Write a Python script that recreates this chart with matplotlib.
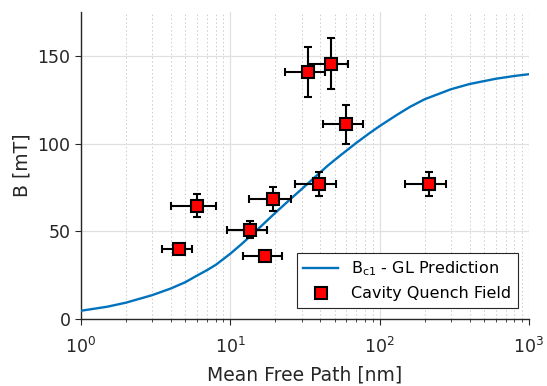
import numpy as np
import matplotlib
matplotlib.use("Agg")
import matplotlib.pyplot as plt
from matplotlib.ticker import LogLocator, NullFormatter

# GL prediction curve
mfp_curve = [1, 1.5, 2, 3, 4, 5, 6, 7, 8, 10, 12, 15, 20, 25, 30, 37, 45, 55, 70, 85,
             100, 130, 160, 200, 300, 400, 600, 800, 1000]
bc1_curve = [4.7, 7.0, 9.3, 13.6, 17.4, 21.0, 24.8, 27.9, 30.9, 37.2, 43.0, 50.5, 60.5, 68, 74,
             81, 87.5, 93.5, 100.5, 105.8, 110, 116.3, 121, 125.3, 131, 134, 137, 138.6, 139.6]

# cavity quench field measurements
mfp = [4.5, 6.0, 13.5, 17.1, 19.4, 33.3, 47, 59.6, 39, 214]
mfp_err = [1.0, 2.0, 4, 5, 6, 10, 14, 18, 12, 65]
bq = [40, 64.5, 51, 36, 68.3, 141, 145.5, 111, 77, 77]
bq_err = [3, 6.5, 5, 2.5, 7, 14.3, 14.5, 11, 7, 7]

plt.rcParams['font.family'] = ['DejaVu Sans']
txt = '#262626'

fig = plt.figure(figsize=(5.47, 3.86), dpi=100)
ax = fig.add_axes([0.148, 0.1736, 0.819, 0.795])

ax.plot(mfp_curve, bc1_curve, color='#0072BD', lw=1.7, label='B$_{\\mathregular{c1}}$ - GL Prediction',
        zorder=3, solid_joinstyle='round')
ax.errorbar(mfp, bq, xerr=mfp_err, yerr=bq_err, fmt='none', ecolor='black', elinewidth=1.5,
            capsize=3, capthick=1.5, zorder=4)
ax.plot(mfp, bq, 's', color='red', mec='black', mew=1.5, ms=8, ls='none',
        label='Cavity Quench Field', zorder=5)

ax.set_xscale('log')
ax.set_xlim(1, 1000)
ax.set_ylim(0, 175)
ax.set_yticks([0, 50, 100, 150])
ax.xaxis.set_minor_locator(LogLocator(base=10, subs=np.arange(2, 10)))
ax.xaxis.set_minor_formatter(NullFormatter())

ax.grid(True, which='major', color='#e0e0e0', lw=0.9)
ax.grid(True, which='minor', axis='x', color='#cccccc', lw=0.7, ls=(0, (1.5, 2.5)))
ax.set_axisbelow(True)

for s in ['top', 'right']:
    ax.spines[s].set_visible(False)
for s in ['left', 'bottom']:
    ax.spines[s].set_color(txt)
    ax.spines[s].set_linewidth(1.0)

ax.tick_params(which='major', direction='out', length=4, color=txt, labelcolor=txt, labelsize=12.5)
ax.tick_params(axis='x', which='major', pad=9)
ax.tick_params(which='minor', direction='out', length=2.5, color=txt)

ax.set_xlabel('Mean Free Path [nm]', fontsize=13.5, color=txt, labelpad=6)
ax.set_ylabel('B [mT]', fontsize=13.5, color=txt)

leg = ax.legend(loc='lower right', fontsize=11.5, frameon=True, fancybox=False,
                edgecolor=txt, framealpha=1, borderaxespad=0.7, handlelength=2.2)
leg.get_frame().set_linewidth(0.8)

fig.savefig('out.png', dpi=100)
